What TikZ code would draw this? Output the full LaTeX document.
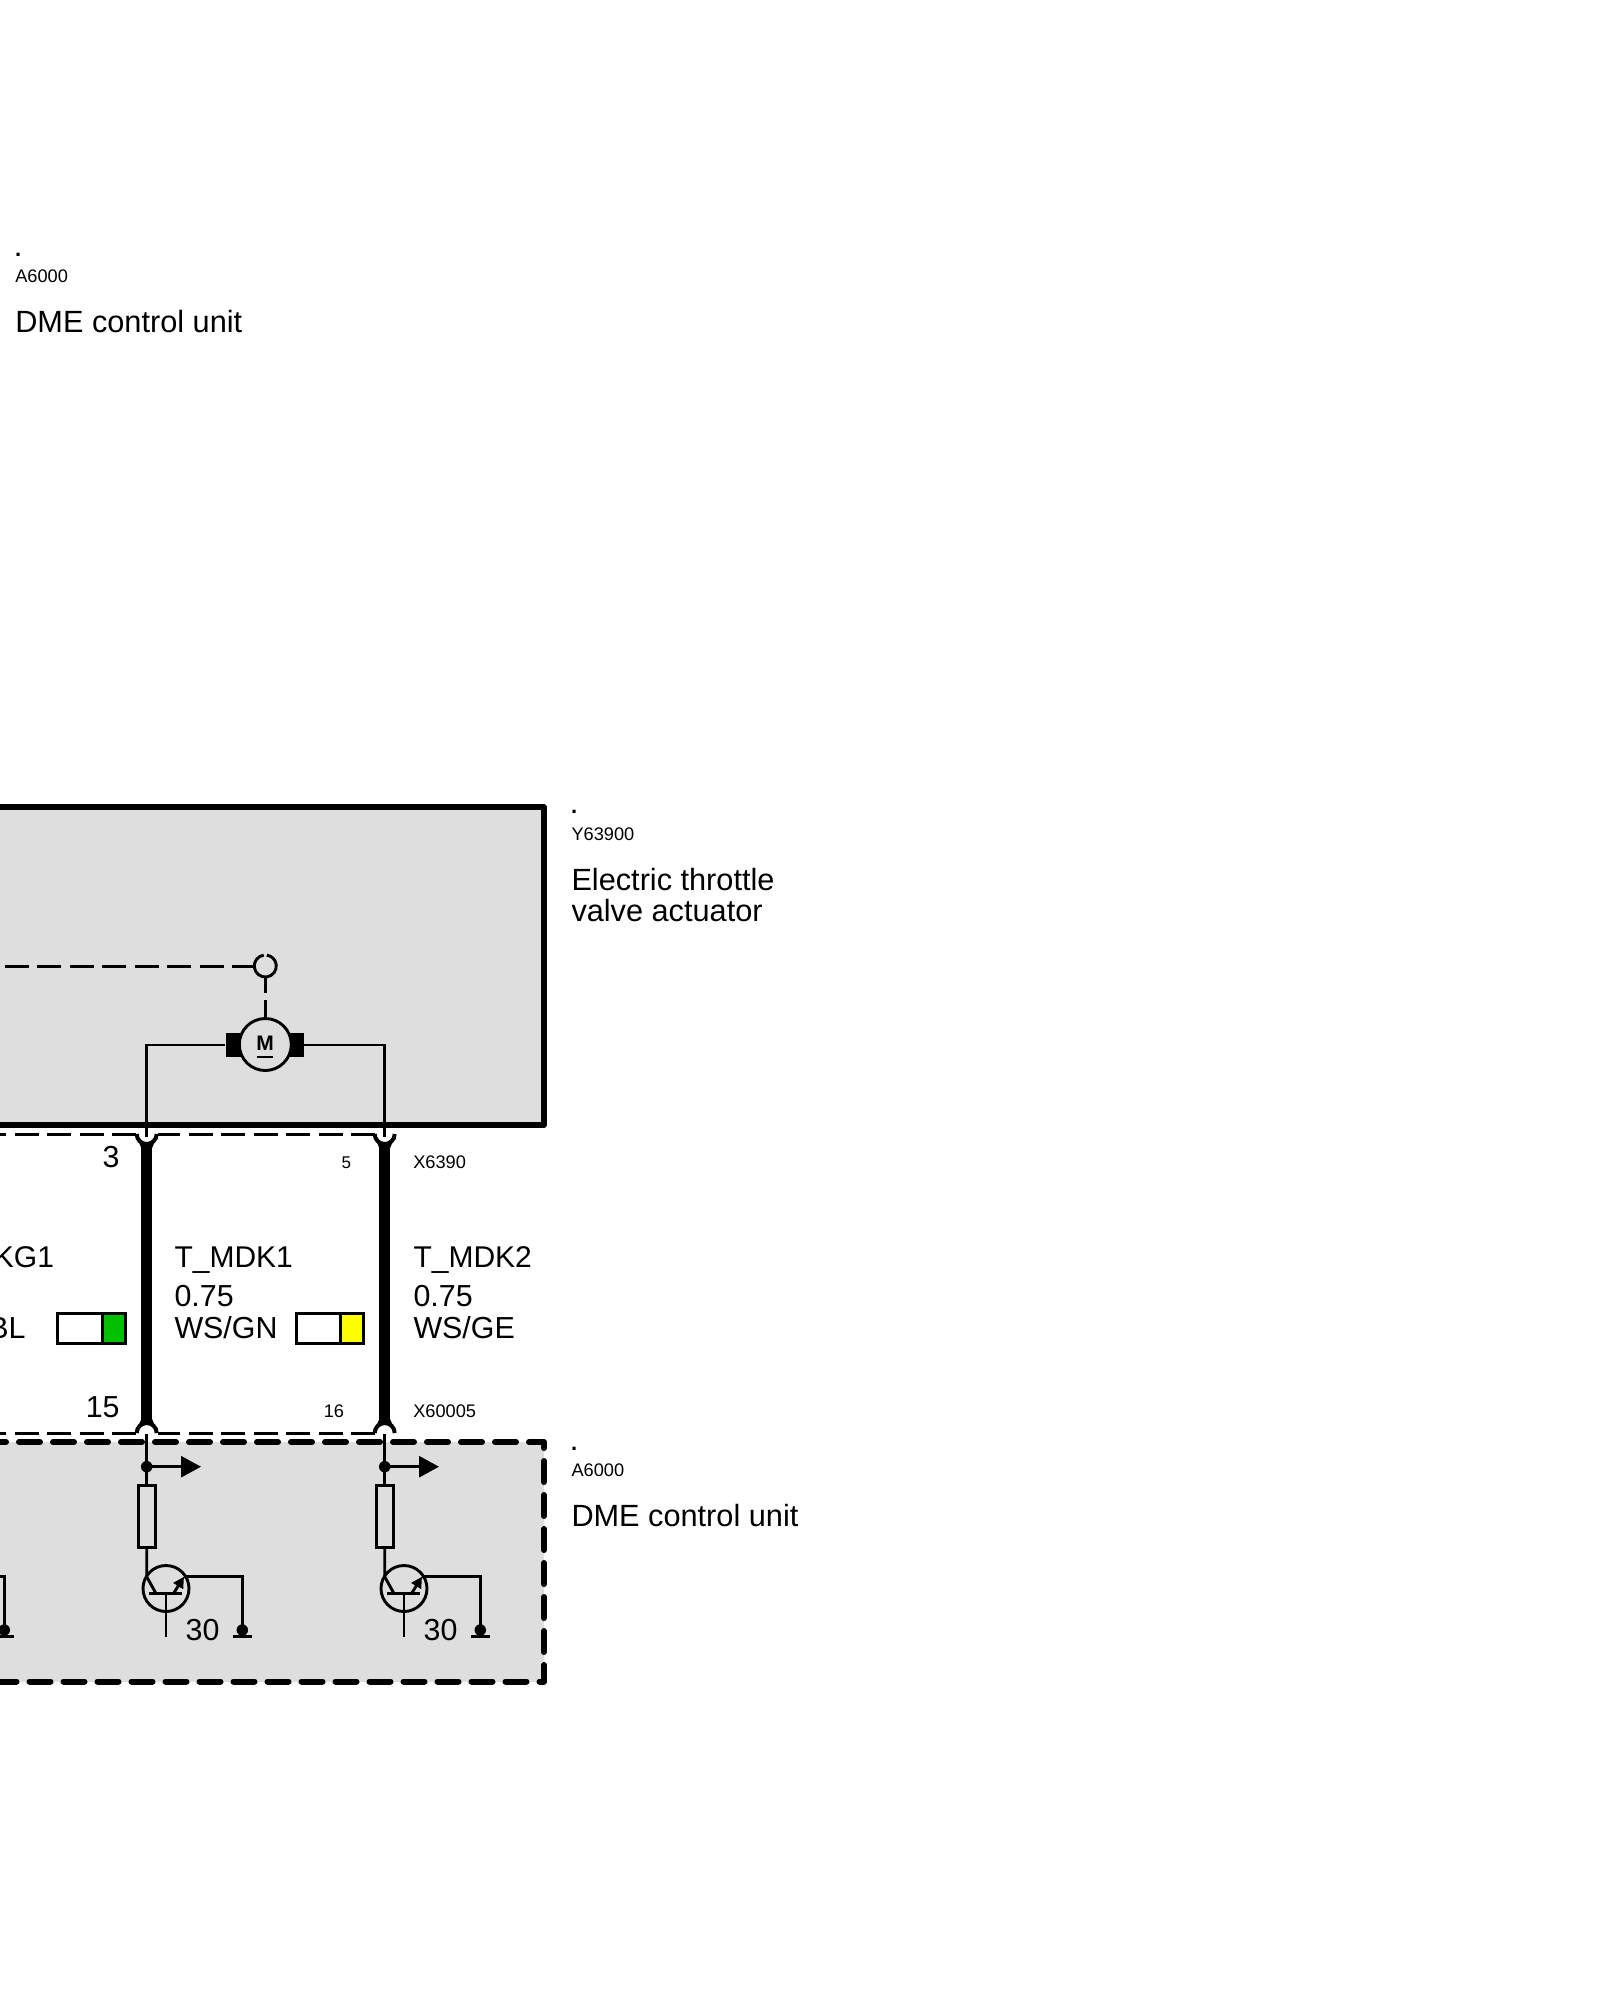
\documentclass[tikz,border=0pt]{standalone}
\usepackage{fontspec}
\setmainfont{Liberation Sans}
\usetikzlibrary{arrows.meta,calc}
\definecolor{boxgray}{HTML}{DEDEDE}
\definecolor{wiregreen}{HTML}{00C000}
\definecolor{wireyellow}{HTML}{FFFF00}
\newcommand{\fs}[1]{\fontsize{#1}{#1}\selectfont}
\tikzset{
  x=1pt,y=-1pt,
  txt/.style={inner sep=0,outer sep=0,anchor=base west,text=black},
  txtr/.style={inner sep=0,outer sep=0,anchor=base east,text=black},
  big/.style={font=\fs{30.4}},
  head/.style={font=\fs{30.7}},
  sig/.style={font=\fs{30}},
  small/.style={font=\fs{18.2}},
  point/.style={font=\bfseries\fs{22}},
  thin wire/.style={line width=2.9pt,black},
  harness/.style={line width=10.8pt,black},
  socket/.style={line width=4pt,black},
  shield/.style={line width=3pt,black,dash pattern=on 24pt off 8.5pt},
  swatch/.style={draw=black,line width=3pt,minimum height=30pt,inner sep=0,outer sep=0},
  dot/.style={circle,fill=black,inner sep=0,minimum size=11.5pt},
}
\begin{document}
\begin{tikzpicture}
\useasboundingbox (0,0) rectangle (1600,2000);
% component boxes
\path[fill=boxgray,draw=black,line width=5.8pt,line join=round] (-10,807) rectangle (544,1125);
\fill[boxgray] (-10,1442) rectangle (544,1681.5);
\draw[black,line width=6pt,line cap=round,line join=round,dash pattern=on 21pt off 13pt]
  (-15,1442) -- (544,1442) -- (544,1681.5) -- (-15,1681.5);
% shield lines of the connectors
\coordinate (sa) at (0,1134);
\coordinate (sa2) at (136,1134);
\coordinate (sb2) at (158,1134);
\coordinate (sb) at (375,1134);
\coordinate (sc) at (0,1433);
\coordinate (sc2) at (136,1433);
\coordinate (sd2) at (158,1433);
\coordinate (sd) at (375,1433);
\draw[shield] (sb) -- (sb2);
\draw[shield] (sa2) -- (sa);
\draw[shield] (sd) -- (sd2);
\draw[shield] (sc2) -- (sc);
% position sensor and motor
\node[circle,inner sep=0,minimum size=22pt] (sens) at (265.3,966) {};
\draw[thin wire] ($(sens.center)+(98:11pt)$) arc[start angle=98,end angle=442,radius=11pt];
\coordinate (dl) at (0,966);
\draw[shield,dash phase=2pt] (sens.west) -- (dl);
\node[fill=black,inner sep=0,minimum width=78pt,minimum height=24pt] (brush) at (264.5,1045) {};
\node[draw=black,fill=boxgray,line width=2.9pt,circle,inner sep=0,minimum size=52pt] (motor) at (265.3,1044.5) {};
\node[inner sep=0,font=\bfseries\fs{21}] (mlabel) at (265,1043.7) {M};
\draw[line width=2.4pt] ([xshift=-8pt,yshift=-13pt]mlabel.center) -- ([xshift=8pt,yshift=-13pt]mlabel.center);
\draw[thin wire,dash pattern=on 16pt off 7pt on 20pt off 0pt] (sens.south) -- (motor.north);
% two output stages
\foreach \n/\dx in {a/0,b/238}{
  \begin{scope}[shift={(\dx,0)}]
    \coordinate (\n top) at (146.7,1137);
    \coordinate (\n tu) at (146.7,1134);
    \coordinate (\n hs) at (146.7,1147);
    \coordinate (\n he) at (146.7,1420);
    \coordinate (\n bu) at (146.7,1433);
    \coordinate (\n bot) at (146.7,1434);
    \draw[harness] (\n hs) -- (\n he);
    \draw[socket] ($(\n tu)+(-10,0)$) arc[start angle=180,end angle=360,radius=10pt];
    \draw[socket] ($(\n bu)+(-10,0)$) arc[start angle=180,end angle=0,radius=10pt];
    \node[dot] (\n j) at (146.7,1466.7) {};
    \coordinate (\n head) at (201,1466.7);
    \draw[thin wire,-{Triangle[length=20pt,width=21pt]}] (\n j.center) -- (\n head);
    \node[draw=black,line width=2.9pt,inner sep=0,outer sep=0,minimum width=17pt,minimum height=62.7pt] (\n res) at (146.7,1516.4) {};
    \draw[thin wire] (\n bot) -- (\n j.center) -- (\n res.north);
    \node[draw=black,line width=2.9pt,circle,inner sep=0,minimum size=46pt] (\n t) at (166,1588.5) {};
    \coordinate (\n bk) at (146.7,1576.7);
    \coordinate (\n bar) at (156,1593.5);
    \coordinate (\n bl) at (149,1593.5);
    \coordinate (\n br) at (182,1593.5);
    \coordinate (\n bm) at (166,1593.5);
    \coordinate (\n bd) at (166,1637);
    \coordinate (\n es) at (173.5,1593.5);
    \coordinate (\n ee) at (184,1576.7);
    \draw[thin wire] (\n res.south) -- (\n bk) -- (\n bar);
    \draw[line width=3.2pt] (\n bl) -- (\n br);
    \draw[thin wire] (\n bm) -- (\n bd);
    \draw[thin wire,-{Triangle[length=11pt,width=11pt]}] (\n es) -- (\n ee);
    \node[dot] (\n g) at (242.3,1630) {};
    \coordinate (\n gl) at (233,1636.7);
    \coordinate (\n gr) at (251.7,1636.7);
    \draw[thin wire] (\n ee) -- (\n g.center |- \n ee) -- (\n g.center);
    \draw[thin wire] (\n gl) -- (\n gr);
    \node[txt,big] (\n thirty) at (185.7,1640) {30};
  \end{scope}
}
% necks between sockets and harness
\foreach \n in {a,b}{
  \fill[black] ($(\n tu)+(-7.5,9)$) -- ($(\n tu)+(7.5,9)$) -- ($(\n hs)+(5.4,1)$) -- ($(\n hs)+(-5.4,1)$) -- cycle;
  \fill[black] ($(\n bu)+(-7.5,-9)$) -- ($(\n bu)+(7.5,-9)$) -- ($(\n he)+(5.4,-1)$) -- ($(\n he)+(-5.4,-1)$) -- cycle;
}
% part of the stage to the left
\node[dot] (cg) at (4.3,1630) {};
\coordinate (cup) at (-5,1576.7);
\coordinate (cgl) at (-5,1636.7);
\coordinate (cgr) at (13.7,1636.7);
\draw[thin wire] (cup) -- (cg.center |- cup) -- (cg.center);
\draw[thin wire] (cgl) -- (cgr);
% wires from the motor
\draw[thin wire] (brush.west) -| (atop);
\draw[thin wire] (brush.east) -| (btop);
% colour swatches
\node[swatch,fill=white,minimum width=46pt,anchor=north west] (w1) at (57.5,1313.5) {};
\node[swatch,fill=wiregreen,minimum width=22.5pt,anchor=north west] (c1) at (102.5,1313.5) {};
\node[swatch,fill=white,minimum width=45pt,anchor=north west] (w2) at (296,1313.5) {};
\node[swatch,fill=wireyellow,minimum width=23.5pt,anchor=north west] (c2) at (340,1313.5) {};
% texts
\node[txt,point] (t1) at (15.2,256) {.};
\node[txt,small] (t2) at (15.3,282.7) {A6000};
\node[txt,head] (t3) at (15.3,332.7) {DME control unit};
\node[txt,point] (t4) at (571.2,813.4) {.};
\node[txt,small] (t5) at (571.5,840) {Y63900};
\node[txt,head] (t6) at (571.5,890) {Electric throttle};
\node[txt,head] (t7) at (571.5,921) {valve actuator};
\node[txt,point] (t8) at (571.2,1450) {.};
\node[txt,small] (t9) at (571.5,1476.7) {A6000};
\node[txt,head] (t10) at (571.5,1526.7) {DME control unit};
\node[txtr,big] (p3) at (119.6,1167) {3};
\node[txtr,font=\fs{17}] (p5) at (351,1168) {5};
\node[txt,small] (x1) at (413.3,1168) {X6390};
\node[txtr,big] (p15) at (119.6,1417) {15};
\node[txtr,small] (p16) at (344,1417) {16};
\node[txt,small] (x2) at (413.3,1417) {X60005};
\node[txtr,sig] (kg) at (54,1267) {KG1};
\node[txtr,big] (bl) at (25.6,1338) {BL};
\node[txt,sig] (m1) at (174.5,1267) {T\_MDK1};
\node[txt,big] (s1) at (174.5,1306) {0.75};
\node[txt,big] (c1t) at (174.5,1338) {WS/GN};
\node[txt,sig] (m2) at (413.5,1267) {T\_MDK2};
\node[txt,big] (s2) at (413.5,1306) {0.75};
\node[txt,big] (c2t) at (413.5,1338) {WS/GE};
\end{tikzpicture}
\end{document}
